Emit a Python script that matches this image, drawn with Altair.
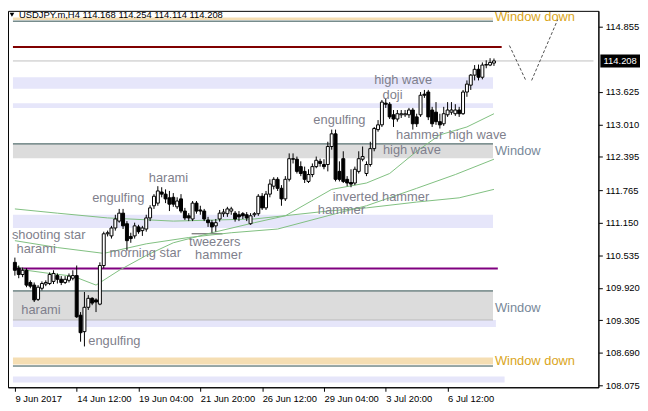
import altair as alt
import pandas as pd

# ---------------- data ----------------
opens = [110.40,110.29,110.17,110.25,110.02,109.97,109.70,109.91,109.99,110.00,
         110.04,110.15,110.08,110.02,110.06,110.10,110.15,109.40,109.09,109.55,
         109.72,109.69,109.61,110.34,110.94,110.90,111.05,111.18,111.33,111.13,
         110.89,110.90,111.07,111.00,111.03,111.24,111.47,111.52,111.73,111.69,
         111.62,111.63,111.45,111.60,111.37,111.28,111.22,111.52,111.39,111.37,
         111.20,111.15,111.09,111.22,111.32,111.32,111.37,111.33,111.30,111.32,
         111.30,111.13,111.30,111.32,111.65,111.43,111.69,111.84,111.97,111.80,
         111.60,111.97,112.36,112.35,112.21,112.12,111.93,112.06,112.21,112.31,
         112.25,112.25,112.59,112.83,112.12,112.36,111.97,111.91,111.90,112.12,
         112.35,112.08,112.25,112.55,112.91,113.00,113.41,113.39,113.19,113.11,
         113.19,113.19,113.19,113.28,113.15,113.19,113.58,113.62,113.28,113.24,
         113.06,113.02,113.19,113.24,113.21,113.28,113.21,113.62,113.75,113.94,
         114.05,113.90,114.13,114.13,114.168]
highs = [110.49,110.34,110.30,110.29,110.06,110.02,109.97,110.04,110.06,110.21,
         110.25,110.19,110.14,110.14,110.19,110.25,110.34,109.46,109.84,109.78,
         109.74,109.72,110.40,110.98,111.00,111.09,111.30,111.41,111.41,111.18,
         110.96,111.15,111.11,111.09,111.30,111.48,111.69,111.84,111.82,111.78,
         111.75,111.71,111.63,111.69,111.43,111.33,111.56,111.56,111.47,111.41,
         111.26,111.20,111.22,111.39,111.41,111.45,111.45,111.37,111.37,111.35,
         111.35,111.33,111.35,111.69,111.71,111.75,111.97,112.01,112.01,111.86,
         112.03,112.46,112.46,112.40,112.31,112.21,112.16,112.27,112.40,112.36,
         112.35,112.68,112.91,112.91,112.31,112.50,112.03,112.16,112.21,112.50,
         112.59,112.31,112.68,112.96,113.09,113.47,113.49,113.43,113.28,113.28,
         113.28,113.28,113.32,113.32,113.21,113.62,113.66,113.66,113.34,113.43,
         113.21,113.34,113.43,113.43,113.39,113.34,113.66,113.84,113.96,114.13,
         114.14,114.18,114.22,114.26,114.254]
lows = [110.15,110.10,110.12,109.93,109.91,109.65,109.67,109.87,109.95,109.97,
        109.99,110.00,109.97,109.99,110.02,110.06,109.35,108.90,108.81,109.50,
        109.59,109.46,109.59,110.29,110.89,110.85,111.00,111.15,111.03,110.62,
        110.77,110.85,110.94,110.90,110.98,111.18,111.41,111.47,111.63,111.52,
        111.37,111.45,111.41,111.33,111.20,111.18,111.18,111.32,111.30,111.18,
        111.07,110.96,110.98,111.17,111.26,111.26,111.30,111.17,111.18,111.22,
        111.18,111.11,111.26,111.28,111.39,111.39,111.63,111.78,111.75,111.47,
        111.56,111.93,112.27,112.08,112.03,111.90,111.90,112.01,112.18,112.21,
        112.16,112.12,112.53,111.93,111.93,111.90,111.84,111.82,111.86,112.08,
        112.31,112.03,112.21,112.50,112.87,112.96,113.32,113.11,112.96,113.06,
        113.13,113.15,113.13,112.91,112.96,113.15,113.51,113.09,112.96,113.00,
        112.93,112.98,113.15,113.19,113.17,113.15,113.19,113.53,113.66,113.84,
        113.84,113.86,114.07,114.11,114.114]
closes = [110.25,110.17,110.25,109.97,109.95,109.69,109.93,110.00,110.02,110.17,
          110.19,110.08,110.02,110.08,110.14,110.15,109.37,109.07,109.55,109.72,
          109.63,109.65,110.34,110.94,110.96,111.05,111.22,111.33,111.09,110.81,
          110.85,111.09,110.98,111.05,111.24,111.43,111.65,111.75,111.69,111.60,
          111.50,111.50,111.56,111.37,111.24,111.24,111.52,111.37,111.37,111.22,
          111.15,111.07,111.15,111.33,111.35,111.41,111.41,111.22,111.26,111.28,
          111.24,111.28,111.32,111.65,111.43,111.69,111.88,111.97,111.80,111.60,
          111.97,112.36,112.35,112.12,112.08,111.97,112.06,112.21,112.33,112.27,
          112.21,112.59,112.83,111.97,111.97,111.93,111.90,111.88,112.16,112.36,
          112.40,112.25,112.55,112.93,113.00,113.43,113.39,113.15,113.11,113.21,
          113.21,113.21,113.28,113.02,113.02,113.56,113.56,113.15,113.02,113.06,
          113.00,113.21,113.28,113.28,113.28,113.21,113.62,113.77,113.94,114.05,
          113.90,114.13,114.14,114.18,114.208]

tick_bars = [0, 16, 32, 48, 64, 80, 96, 112]
tick_labels = ["9 Jun 2017", "14 Jun 12:00", "19 Jun 04:00", "21 Jun 20:00",
               "26 Jun 12:00", "29 Jun 04:00", "3 Jul 20:00", "6 Jul 12:00"]
price_ticks = [108.075, 108.690, 109.305, 109.920, 110.535, 111.150,
               111.765, 112.395, 113.010, 113.625, 114.855]

slow_bar = [0, 11, 24, 41, 62, 81, 91, 104, 115, 124]
slow_val = [111.41, 111.33, 111.24, 111.18, 111.22, 111.37, 111.43, 111.54, 111.62, 111.78]
mid_bar = [0, 11, 23, 34, 45, 56, 68, 83, 91, 104, 114, 124]
mid_val = [110.81, 110.68, 110.57, 110.75, 110.87, 110.96, 111.03, 111.32, 111.47, 111.80, 112.06, 112.35]
fast_bar = [0, 3, 9, 15, 21, 27, 34, 41, 51, 62, 70, 82, 91, 97, 104, 110, 117, 124]
fast_val = [110.34, 110.25, 110.19, 110.14, 109.97, 110.25, 110.53, 110.77, 110.96, 111.15,
            111.28, 111.78, 111.90, 112.08, 112.50, 112.81, 112.96, 113.21]

band_top = [115.03, 113.90, 113.41, 112.64, 111.30, 109.86, 109.31, 108.60, 108.24]
band_bot = [114.98, 113.68, 113.32, 112.37, 111.05, 109.31, 109.18, 108.47, 108.13]
band_end = [123.75, 123.75, 123.75, 123.75, 123.75, 123.75, 124.5, 123.75, 126.75]
band_col = ["#f5deb3", "#e6e6fa", "#e6e6fa", "#dcdcdc", "#e6e6fa", "#dcdcdc",
            "#e6e6fa", "#f5deb3", "#e6e6fa"]

line_price = [114.96, 114.47, 114.208, 112.64, 110.285, 109.86, 109.31, 108.44, 110.94]
line_start = [-0.5, -0.5, -0.5, -0.5, -0.5, -0.5, -0.5, -0.5, 45.75]
line_end = [123.75, 126.0, 149.75, 123.75, 125.0, 123.75, 123.75, 123.75, 53.75]
line_col = ["#2f4f4f", "#800000", "#c0c0c0", "#2f4f4f", "#800080", "#2f4f4f",
            "#bbbbbb", "#2f4f4f", "#555555"]
line_w = [1, 2, 1, 1, 2, 1, 1, 1, 1]

lab_text = ["high wave", "doji", "engulfing", "hammer", "high wave", "high wave",
            "harami", "engulfing", "inverted hammer", "hammer", "shooting star",
            "harami", "tweezers", "morning star", "hammer", "harami", "engulfing"]
lab_bar = [100.5, 97.75, 84.0, 104.75, 119.75, 102.75, 39.75, 26.75, 94.75, 84.5,
           8.75, 5.5, 51.75, 33.75, 52.75, 6.75, 25.75]
lab_price = [113.84, 113.56, 113.10, 112.81, 112.81, 112.53, 111.99, 111.62, 111.64,
             111.385, 110.92, 110.66, 110.79, 110.57, 110.53, 109.50, 108.92]

win_text = ["Window down", "Window", "Window", "Window down"]
win_bar = [124.25, 124.25, 124.25, 124.25]
win_price = [115.04, 112.50, 109.54, 108.53]
win_col = ["#daa520", "#778899", "#778899", "#daa520"]

v_seg = ["a", "a", "b", "b"]
v_bar = [128.0, 132.25, 133.75, 140.5]
v_price = [114.50, 113.84, 113.84, 114.99]

header = "USDJPY.m,H4  114.168 114.254 114.114 114.208"
last_price = 114.208

# ---------------- chart ----------------
W, H = 596, 380
FONT = "Liberation Sans"
xs = alt.Scale(domain=[-0.5, 149.75], nice=False, zero=False)
ys = alt.Scale(domain=[108.038, 115.155], nice=False, zero=False)

label_expr = "[" + ",".join("'%s'" % s for s in tick_labels) + "][round(datum.value/16)]"
x_axis = alt.Axis(values=tick_bars, labelExpr=label_expr, labelAlign="left",
                  labelBaseline="top", labelPadding=2, tickSize=4, tickColor="black",
                  domainColor="black", labelColor="black", labelFont=FONT,
                  labelFontSize=9.5, grid=False, labelOverlap=False, labelFlush=False,
                  title=None)
y_axis = alt.Axis(orient="right", values=price_ticks, format=".3f", tickSize=4,
                  tickColor="black", domainColor="black", labelColor="black",
                  labelFont=FONT, labelFontSize=9.5, labelPadding=3, grid=False,
                  labelOverlap=False, labelFlush=False, labelBound=False, title=None)


def X(f):
    return alt.X(f, type="quantitative", scale=xs, axis=x_axis, title=None)


def Y(f):
    return alt.Y(f, type="quantitative", scale=ys, axis=y_axis, title=None)


candles = pd.DataFrame({"bar": list(range(len(opens))), "open": opens, "high": highs,
                        "low": lows, "close": closes})

bands = pd.DataFrame({"top": band_top, "bot": band_bot, "end": band_end,
                      "start": [-0.5] * len(band_top), "col": band_col})
band_layer = alt.Chart(bands).mark_rect().encode(
    x=X("start"), x2="end:Q", y=Y("top"), y2="bot:Q",
    fill=alt.Fill("col:N", scale=None))

lines = pd.DataFrame({"p": line_price, "s": line_start, "e": line_end,
                      "col": line_col, "w": line_w})
line_layer = alt.Chart(lines).mark_rule().encode(
    x=X("s"), x2="e:Q", y=Y("p"),
    color=alt.Color("col:N", scale=None),
    strokeWidth=alt.StrokeWidth("w:Q", scale=None))

ma = pd.DataFrame({
    "bar": slow_bar + mid_bar + fast_bar,
    "v": slow_val + mid_val + fast_val,
    "ma": ["slow"] * len(slow_bar) + ["mid"] * len(mid_bar) + ["fast"] * len(fast_bar)})
ma_layer = alt.Chart(ma).mark_line(color="#7fbf7f", strokeWidth=1).encode(
    x=X("bar"), y=Y("v"), detail="ma:N")

wick_layer = alt.Chart(candles).mark_rule(color="black", strokeWidth=1).encode(
    x=X("bar"), y=Y("low"), y2="high:Q")
body_layer = alt.Chart(candles).mark_bar(size=3, stroke="black", strokeWidth=1).encode(
    x=X("bar"), y=Y("open"), y2="close:Q",
    fill=alt.when(alt.datum.close >= alt.datum.open).then(alt.value("white")).otherwise(alt.value("black")))

labs = pd.DataFrame({"t": lab_text, "bar": lab_bar, "p": lab_price})
lab_layer = alt.Chart(labs).mark_text(font=FONT, fontSize=13, color="#7f7f8c",
                                      align="center", baseline="middle").encode(
    x=X("bar"), y=Y("p"), text="t:N")

wins = pd.DataFrame({"t": win_text, "bar": win_bar, "p": win_price, "col": win_col})
win_layer = alt.Chart(wins).mark_text(font=FONT, fontSize=13, align="left",
                                      baseline="middle").encode(
    x=X("bar"), y=Y("p"), text="t:N", color=alt.Color("col:N", scale=None))

vdf = pd.DataFrame({"seg": v_seg, "bar": v_bar, "p": v_price})
v_layer = alt.Chart(vdf).mark_line(color="#505050", strokeWidth=1, strokeDash=[3, 2]).encode(
    x=X("bar"), y=Y("p"), detail="seg:N")

hdr = pd.DataFrame({"t": [header]})
hdr_layer = alt.Chart(hdr).mark_text(font=FONT, fontSize=9.5, color="black", align="left",
                                     baseline="middle").encode(
    x=alt.value(11), y=alt.value(4), text="t:N")
tri_layer = alt.Chart(hdr).mark_point(shape="triangle-down", size=22, filled=True,
                                      color="black", opacity=1).encode(
    x=alt.value(4), y=alt.value(4))

lp = pd.DataFrame({"p": [last_price], "t": ["%.3f" % last_price]})
box_layer = alt.Chart(lp).mark_point(shape="M-1,-0.33L1,-0.33L1,0.33L-1,0.33Z", size=1600,
                                     filled=True, color="black", opacity=1).encode(
    x=alt.value(W + 22), y=Y("p"))
box_text = alt.Chart(lp).mark_text(font=FONT, fontSize=9.5, color="white", align="center",
                                   baseline="middle").encode(
    x=alt.value(W + 22), y=Y("p"), text="t:N")

chart = alt.layer(band_layer, line_layer, ma_layer, wick_layer, body_layer, lab_layer,
                  win_layer, v_layer, hdr_layer, tri_layer, box_layer, box_text).properties(
    width=W, height=H, padding={"left": 0, "top": 0, "right": 0, "bottom": 0},
    background="white"
).configure_view(stroke="black", strokeWidth=1
).configure_axis(labelOverlap=False, labelFlush=False)

chart.save("out.html", embed_options={"renderer": "svg", "actions": False})
